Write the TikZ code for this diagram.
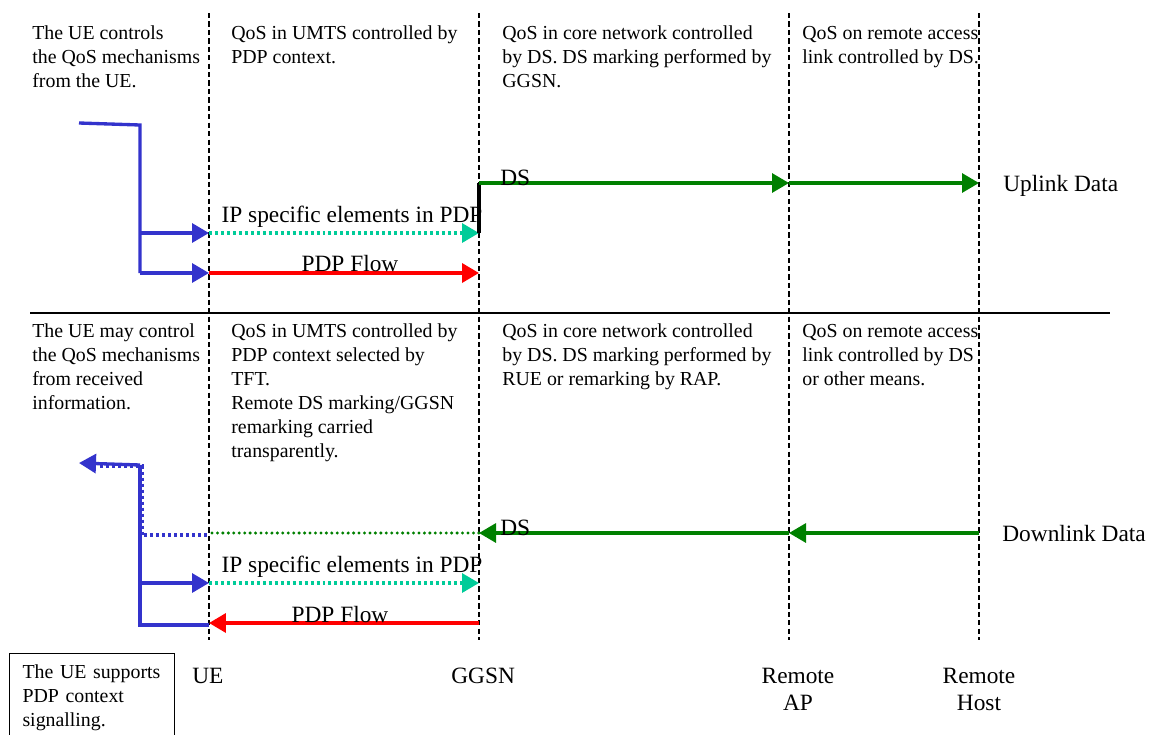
\documentclass[tikz,border=0pt]{standalone}
\usepackage{fontspec}
\setmainfont{Liberation Serif}
\usetikzlibrary{arrows.meta}
\definecolor{flowblue}{RGB}{51,51,204}
\definecolor{flowgreen}{RGB}{0,128,0}
\definecolor{pdpcyan}{RGB}{0,204,153}
\tikzset{
  note/.style={anchor=base west, inner sep=0pt, align=left, font=\fontsize{11.3}{13.6}\selectfont},
  lbl/.style={anchor=base, inner sep=0pt, align=center, font=\fontsize{13.3}{15.3}\selectfont},
  notebox/.style={note, draw, line width=0.6pt, anchor=north west, inner xsep=0.26cm, inner ysep=0.22cm, text width=2.78cm},
  border/.style={dash pattern=on 3pt off 1.8pt, line width=0.6pt},
  divider/.style={line width=0.7pt},
  tip/.style={-{Triangle[length=0.34cm,width=0.38cm]}},
  ueline/.style={flowblue, line width=1.9pt},
  uedots/.style={flowblue, line width=1.9pt, dash pattern=on 1.7pt off 1.7pt},
  ipline/.style={pdpcyan, line width=1.9pt, dash pattern=on 1.7pt off 1.7pt},
  pdpline/.style={red, line width=2pt},
  dsline/.style={flowgreen, line width=1.8pt},
  dsdots/.style={flowgreen, line width=1.9pt, dash pattern=on 0pt off 3.1pt, line cap=round},
  markline/.style={black, line width=2.3pt}
}
\begin{document}
\begin{tikzpicture}[x=0.02cm,y=-0.02cm]
\useasboundingbox (0,0) rectangle (1150,734);
% column borders
\coordinate (ueTop) at (209,13);   \coordinate (ueBot) at (209,640);
\coordinate (ggsnTop) at (479,13); \coordinate (ggsnBot) at (479,640);
\coordinate (apTop) at (789,13);   \coordinate (apBot) at (789,640);
\coordinate (hostTop) at (979,13); \coordinate (hostBot) at (979,640);
\draw[border] (ueTop) -- (ueBot);
\draw[border] (ggsnTop) -- (ggsnBot);
\draw[border] (apTop) -- (apBot);
\draw[border] (hostTop) -- (hostBot);
\coordinate (divL) at (30,313); \coordinate (divR) at (1110,313);
\draw[divider] (divL) -- (divR);

% uplink texts (placed by the baseline of their last line)
\node[note] (ulUE) at (32,87) {The UE controls\\the QoS mechanisms\\from the UE.};
\node[note] (ulUMTS) at (231,63) {QoS in UMTS controlled by\\PDP context.};
\node[note] (ulCore) at (502,87) {QoS in core network controlled\\by DS. DS marking performed by\\GGSN.};
\node[note] (ulRemote) at (802,63) {QoS on remote access\\link controlled by DS.};

% uplink flows
\coordinate (ulStart) at (79,123);   \coordinate (ulBend) at (140,125);
\coordinate (ulIpSrc) at (140,233);  \coordinate (ulPdpSrc) at (140,273);
\coordinate (ulIpUE) at (209,233);   \coordinate (ulIpGGSN) at (479,233);
\coordinate (ulPdpUE) at (209,273);  \coordinate (ulPdpGGSN) at (479,273);
\coordinate (ulDsGGSN) at (479,183); \coordinate (ulDsAP) at (789,183);
\coordinate (ulDsHost) at (979,183);
\draw[ueline] (ulStart) -- (ulBend) -- (ulPdpSrc);
\draw[ueline,tip] (ulIpSrc) -- (ulIpUE);
\draw[ueline,tip] (ulPdpSrc) -- (ulPdpUE);
\draw[ipline,tip] (ulIpUE) -- (ulIpGGSN);
\draw[pdpline,tip] (ulPdpUE) -- (ulPdpGGSN);
\draw[markline] (ulIpGGSN) -- (ulDsGGSN);
\draw[dsline,tip] (ulDsGGSN) -- (ulDsAP);
\draw[dsline,tip] (ulDsAP) -- (ulDsHost);
\node[lbl] (ulIpLbl) at (352,222) {IP specific elements in PDP};
\node[lbl] (ulPdpLbl) at (350,271) {PDP Flow};
\node[lbl,anchor=base west] (ulDsLbl) at (500,185) {DS};
\node[lbl,anchor=base west] (ulData) at (1003,191) {Uplink Data};

% downlink texts
\node[note] (dlUE) at (32,409) {The UE may control\\the QoS mechanisms\\from received\\information.};
\node[note] (dlUMTS) at (231,457) {QoS in UMTS controlled by\\PDP context selected by\\TFT.\\Remote DS marking/GGSN\\remarking carried\\transparently.};
\node[note] (dlCore) at (502,385) {QoS in core network controlled\\by DS. DS marking performed by\\RUE or remarking by RAP.};
\node[note] (dlRemote) at (802,385) {QoS on remote access\\link controlled by DS\\or other means.};

% downlink flows
\coordinate (dlEnd) at (79,463);     \coordinate (dlBend) at (140,465);
\coordinate (dlPdpSrc) at (140,625); \coordinate (dlPdpEnd) at (209,625);
\coordinate (dlDotTop) at (100,466); \coordinate (dlDotCorner) at (142,466);
\coordinate (dlDotBend) at (142,535); \coordinate (dlDotUE) at (209,535);
\coordinate (dlDsUE) at (212,533);   \coordinate (dlDsGGSN) at (479,533);
\coordinate (dlDsAP) at (789,533);   \coordinate (dlDsHost) at (979,533);
\coordinate (dlIpSrc) at (140,583);  \coordinate (dlIpUE) at (209,583);
\coordinate (dlIpGGSN) at (479,583);
\coordinate (dlPdpUE) at (209,623);  \coordinate (dlPdpGGSN) at (479,623);
\draw[ueline,tip] (dlBend) -- (dlEnd);
\draw[ueline] (dlBend) -- (dlPdpSrc) -- (dlPdpEnd);
\draw[uedots] (dlDotTop) -- (dlDotCorner) -- (dlDotBend) -- (dlDotUE);
\draw[dsdots] (dlDsUE) -- (dlDsGGSN);
\draw[dsline,tip] (dlDsHost) -- (dlDsAP);
\draw[dsline,tip] (dlDsAP) -- (dlDsGGSN);
\draw[ueline,tip] (dlIpSrc) -- (dlIpUE);
\draw[ipline,tip] (dlIpUE) -- (dlIpGGSN);
\draw[pdpline,tip] (dlPdpGGSN) -- (dlPdpUE);
\node[lbl] (dlIpLbl) at (352,572) {IP specific elements in PDP};
\node[lbl] (dlPdpLbl) at (340,622) {PDP Flow};
\node[lbl,anchor=base west] (dlDsLbl) at (500,535) {DS};
\node[lbl,anchor=base west] (dlData) at (1002,541) {Downlink Data};

% network elements
\node[notebox] (ueBox) at (9,653) {The UE supports\\PDP context\\signalling.};
\node[lbl,anchor=base west] (ueName) at (192,683) {UE};
\node[lbl,anchor=base west] (ggsnName) at (451,683) {GGSN};
\node[lbl] (apName) at (798,710) {Remote\\AP};
\node[lbl] (hostName) at (979,710) {Remote\\Host};
\end{tikzpicture}
\end{document}
